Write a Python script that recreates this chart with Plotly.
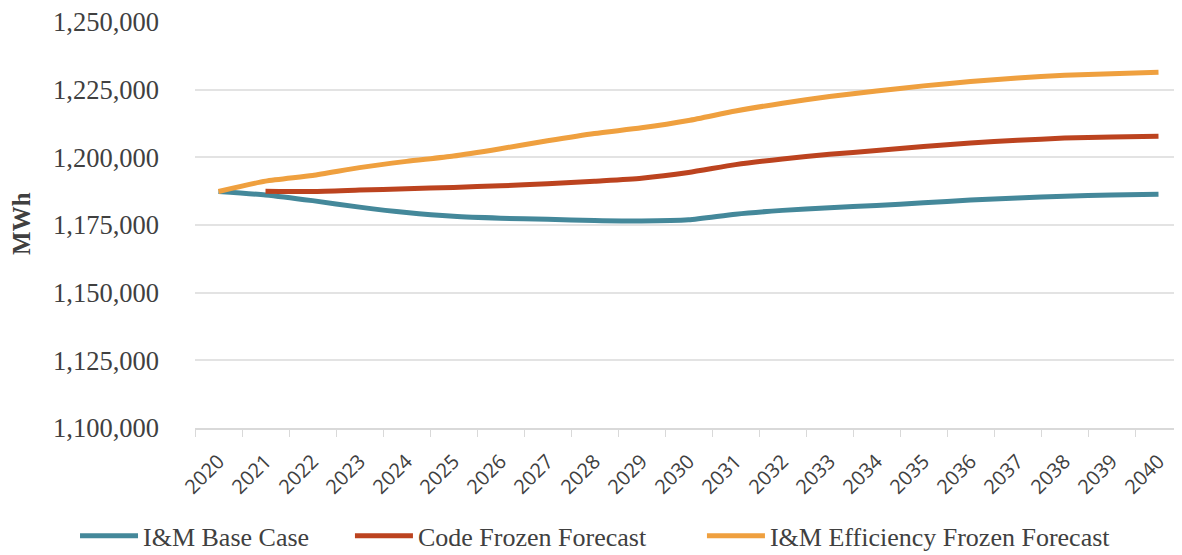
import plotly.graph_objects as go

years = [str(y) for y in range(2020, 2041)]
base_case = [1187400, 1186100, 1184000, 1181600, 1179600, 1178200, 1177500, 1177100, 1176700, 1176500,
             1176900, 1179000, 1180400, 1181400, 1182200, 1183200, 1184200, 1185000, 1185600, 1186100, 1186400]
code_frozen = [None, 1187500, 1187400, 1187900, 1188400, 1188900, 1189500, 1190200, 1191200, 1192300,
               1194400, 1197300, 1199400, 1201100, 1202500, 1204000, 1205300, 1206300, 1207100, 1207500, 1207800]
eff_frozen = [1187400, 1191200, 1193300, 1196200, 1198500, 1200500, 1203200, 1206100, 1208800, 1210900,
              1213600, 1217100, 1220000, 1222500, 1224500, 1226400, 1228000, 1229300, 1230300, 1230900, 1231400]

series = [
    ("I&M Base Case", base_case, "#44889A", "legend"),
    ("Code Frozen Forecast", code_frozen, "#BC431F", "legend2"),
    ("I&M Efficiency Frozen Forecast", eff_frozen, "#EFA03F", "legend3"),
]

fig = go.Figure()
for name, vals, color, lg in series:
    fig.add_trace(go.Scatter(
        x=years, y=vals, name=name, mode="lines", legend=lg,
        line=dict(color=color, width=5, shape="spline", smoothing=0.6),
        connectgaps=False,
    ))

serif = "Liberation Serif, Times New Roman, serif"
legend_font = dict(family=serif, size=26, color="#404040")


def make_legend(xpos):
    return dict(
        orientation="h", x=xpos, xanchor="left", xref="container",
        y=0.049, yanchor="middle", yref="container",
        font=legend_font, itemwidth=58, bgcolor="rgba(0,0,0,0)",
    )


fig.update_layout(
    width=1182, height=555,
    margin=dict(l=187, r=8, t=14, b=135),
    paper_bgcolor="white", plot_bgcolor="white",
    showlegend=True,
    legend=make_legend(0.0567),
    legend2=make_legend(0.2893),
    legend3=make_legend(0.5871),
    xaxis=dict(
        type="category", tickangle=-45, tickson="boundaries",
        ticks="outside", ticklen=7, tickcolor="#D9D9D9",
        showline=True, linecolor="#D9D9D9", linewidth=1.5,
        showgrid=False, automargin=False,
        tickfont=dict(family="Open Sans, DejaVu Sans, sans-serif", size=20, color="#404040"),
        ticklabelstandoff=12,
        range=[-0.5, 20.5],
    ),
    yaxis=dict(
        range=[1100000, 1250000], dtick=25000, tickformat=",d",
        showgrid=True, gridcolor="#E3E3E3", gridwidth=1.5,
        zeroline=False, showline=False, automargin=False,
        tickfont=dict(family=serif, size=26.5, color="#404040"),
        ticklabelstandoff=35, ticklabeloverflow="allow",
    ),
    annotations=[dict(
        text="<b>MWh</b>", textangle=-90, showarrow=False,
        xref="paper", yref="paper", x=-0.1753, y=0.505,
        xanchor="center", yanchor="middle",
        font=dict(family=serif, size=25, color="#404040"),
    )],
)

fig.write_html("out.html")
